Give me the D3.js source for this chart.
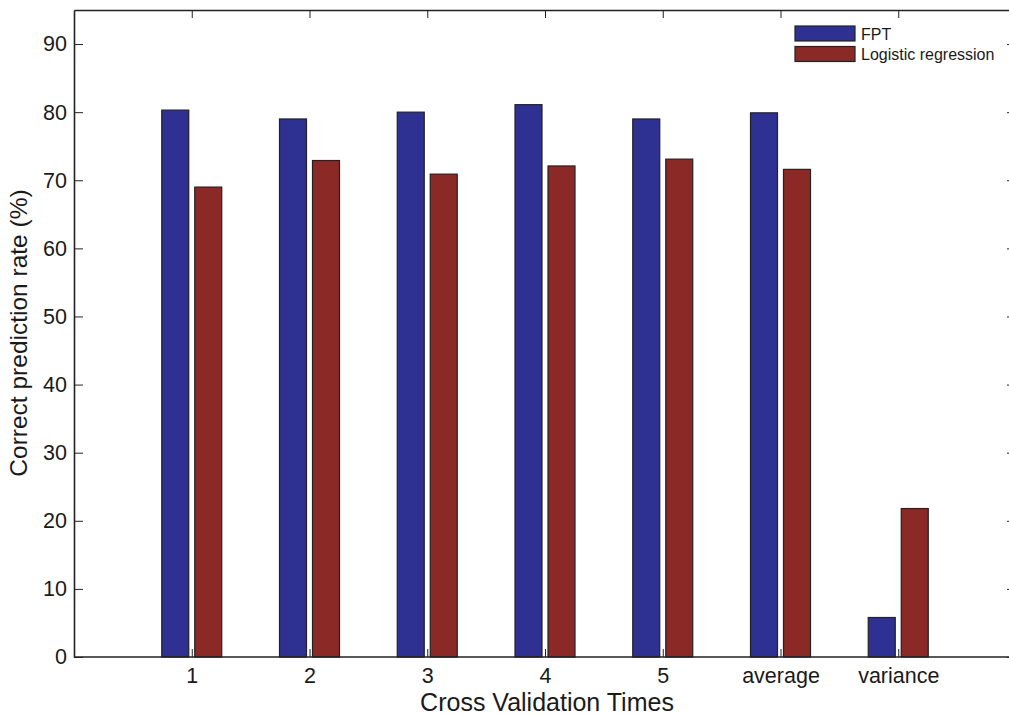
<!DOCTYPE html>
<html><head><meta charset="utf-8">
<script src="https://cdn.jsdelivr.net/npm/d3@7"></script>
<style>body{margin:0;background:#fff}svg{display:block}text{font-family:"Liberation Sans",Arial,Helvetica,sans-serif;fill:#1a1a1a}</style>
</head><body><svg id="c" width="1009" height="716"></svg>
<script>
const categories = ["1","2","3","4","5","average","variance"];
const seriesNames = ["FPT","Logistic regression"];
const fptValues = [80.3, 79.0, 80.0, 81.1, 79.0, 79.9, 5.8];
const logisticValues = [69.0, 72.9, 70.9, 72.1, 73.1, 71.6, 21.8];
const yTicks = [0,10,20,30,40,50,60,70,80,90];
const colors = ["#2e3192","#8b2926"];

const svg = d3.select("#c");
const L=74, R=1016, T=10, B=657;
const x = d3.scaleLinear().domain([0,8]).range([L,R]);
const y = d3.scaleLinear().domain([0,95]).range([B,T]);
const bw = 27, off = 16.5;

const g = svg.append("g");
const series = [fptValues, logisticValues];
series.forEach((vals,si)=>{
  g.selectAll(".b"+si).data(vals).enter().append("rect")
    .attr("x",(d,i)=>x(i+1)+(si===0?-off:off)-bw/2)
    .attr("y",d=>y(d)).attr("width",bw).attr("height",d=>B-y(d))
    .attr("fill",colors[si]).attr("stroke","#222").attr("stroke-width",1.2);
});

// axes
const ax = d3.axisBottom(x).tickValues(d3.range(1,8)).tickFormat(d=>categories[d-1]).tickSizeInner(-8).tickSizeOuter(0).tickPadding(11);
const axB = svg.append("g").attr("transform",`translate(0,${B})`).call(ax);
const axT = svg.append("g").attr("transform",`translate(0,${T})`).call(d3.axisTop(x).tickValues(d3.range(1,8)).tickFormat("").tickSizeInner(-8).tickSizeOuter(0));
const ay = d3.axisLeft(y).tickValues(yTicks).tickSizeInner(-9).tickSizeOuter(0).tickPadding(7);
const axL = svg.append("g").attr("transform",`translate(${L},0)`).call(ay);
const axR = svg.append("g").attr("transform",`translate(${R},0)`).call(d3.axisRight(y).tickValues(yTicks).tickFormat("").tickSizeInner(-9).tickSizeOuter(0));
[axB,axT,axL,axR].forEach(a=>{
  a.selectAll("path.domain").attr("stroke","#222").attr("stroke-width",1.6);
  a.selectAll(".tick line").attr("stroke","#222").attr("stroke-width",1);
  a.selectAll("text").attr("font-size",21.5).attr("font-family","Liberation Sans, Arial, sans-serif").attr("fill","#1a1a1a");
});
axB.select("path.domain").attr("d",`M${L},0H${R}`);

// titles
svg.append("text").attr("x",547).attr("y",711).attr("text-anchor","middle").attr("font-size",25).text("Cross Validation Times");
svg.append("text").attr("transform",`translate(27,333) rotate(-90)`).attr("text-anchor","middle").attr("font-size",24.5).text("Correct prediction rate (%)");

// legend
const lg = svg.append("g");
seriesNames.forEach((n,i)=>{
  lg.append("rect").attr("x",795).attr("y",26+i*20.5).attr("width",60).attr("height",15)
    .attr("fill",colors[i]).attr("stroke","#222").attr("stroke-width",1.2);
  lg.append("text").attr("x",861).attr("y",39.5+i*20.5).attr("font-size",16).text(n);
});
</script></body></html>
